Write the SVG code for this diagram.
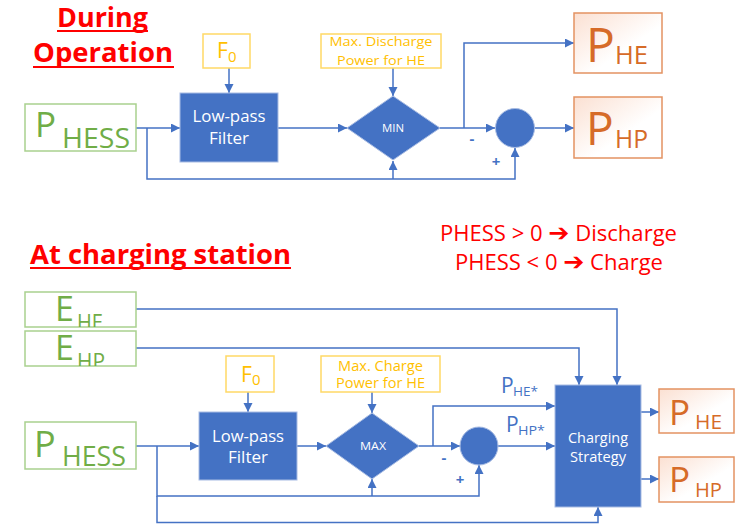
<svg xmlns="http://www.w3.org/2000/svg" width="735" height="524" viewBox="0 0 735 524">
<style>
text{font-family:"Open Sans","Liberation Sans",sans-serif}
.title{font-weight:bold;fill:#FF0000;font-size:26px}
.uline{stroke:#FF0000;stroke-width:2}
.red{fill:#FF0000;font-size:21px}
.wire{fill:none;stroke:#4472C4;stroke-width:1.5}
.arr{marker-end:url(#ah)}
.green{fill:#FFFFFF;stroke:#A9D18E;stroke-width:1.5}
.gtxt{fill:#70AD47}
.yel{fill:#FFFFFF;stroke:#FFD966;stroke-width:1.5}
.ytxt{fill:#FFC000}
.blue{fill:#4472C4;stroke:#A8BCE3;stroke-width:1}
.wtxt{fill:#FFFFFF;text-anchor:middle}
.org{fill:url(#og);stroke:#E39262;stroke-width:1.5}
.otxt{fill:#D66B28}
.btxt{fill:#4472C4}
.sign{fill:#4472C4;font-weight:bold;font-size:15px;text-anchor:middle}
</style>
<defs>
<marker id="ah" markerUnits="userSpaceOnUse" markerWidth="10" markerHeight="10" refX="9" refY="4.5" orient="auto">
<path d="M0,0 L9,4.5 L0,9 z" fill="#4472C4"/>
</marker>
<linearGradient id="og" x1="0" y1="0" x2="1" y2="1">
<stop offset="0" stop-color="#FBE0D2"/>
<stop offset="0.6" stop-color="#FFFFFF"/>
</linearGradient>
<clipPath id="cEHE"><rect x="25" y="292" width="111" height="35"/></clipPath>
<clipPath id="cEHP"><rect x="25" y="331" width="111" height="35"/></clipPath>
</defs>

<!-- Titles and notes -->
<g id="titles">
<text class="title" x="57" y="27" textLength="91" lengthAdjust="spacingAndGlyphs">During</text>
<line class="uline" x1="57" y1="31" x2="148" y2="31"/>
<text class="title" x="33" y="62" textLength="140" lengthAdjust="spacingAndGlyphs">Operation</text>
<line class="uline" x1="33" y1="67" x2="174" y2="67"/>
<text class="title" x="30" y="264" font-size="25" textLength="261" lengthAdjust="spacingAndGlyphs">At charging station</text>
<line class="uline" x1="30" y1="268" x2="291" y2="268"/>
<text class="red" x="440" y="241" textLength="237" lengthAdjust="spacingAndGlyphs">PHESS &gt; 0 <tspan font-family="DejaVu Sans" font-weight="bold" font-size="24">➔</tspan> Discharge</text>
<text class="red" x="455" y="270" textLength="208" lengthAdjust="spacingAndGlyphs">PHESS &lt; 0 <tspan font-family="DejaVu Sans" font-weight="bold" font-size="24">➔</tspan> Charge</text>
</g>

<!-- Connectors -->
<g id="connectors">
<!-- top -->
<path class="wire arr" d="M136,128 H180"/>
<path class="wire arr" d="M147,128 V179 H515 V148"/>
<path class="wire arr" d="M393,179 V161"/>
<path class="wire arr" d="M229,68 V93"/>
<path class="wire arr" d="M393,68 V96"/>
<path class="wire arr" d="M278,128 H347"/>
<path class="wire arr" d="M440,128 H495"/>
<path class="wire arr" d="M464,128 V43 H574"/>
<path class="wire arr" d="M534,128 H574"/>
<!-- bottom -->
<path class="wire arr" d="M136,446 H199"/>
<path class="wire arr" d="M157,446 V496 H479 V465"/>
<path class="wire arr" d="M372,496 V479"/>
<path class="wire arr" d="M157,496 V522.5 H598 V507"/>
<path class="wire arr" d="M248,392 V412"/>
<path class="wire arr" d="M372,392 V413"/>
<path class="wire arr" d="M297,446 H326"/>
<path class="wire arr" d="M419,446 H460"/>
<path class="wire arr" d="M433,446 V406 H555"/>
<path class="wire arr" d="M498,446 H555"/>
<path class="wire arr" d="M136,309 H617 V385"/>
<path class="wire arr" d="M136,348 H579 V385"/>
<path class="wire arr" d="M641,412 H659"/>
<path class="wire arr" d="M641,479 H659"/>
</g>

<!-- ===== Top section nodes ===== -->
<g id="top-phess">
<rect class="green" x="25" y="104" width="111" height="47"/>
<text class="gtxt" x="35" y="137" font-size="35">P</text>
<text class="gtxt" x="62" y="148" font-size="28" textLength="68" lengthAdjust="spacingAndGlyphs">HESS</text>
</g>
<g id="top-f0">
<rect class="yel" x="203" y="34" width="47" height="34"/>
<text class="ytxt" x="217" y="58" font-size="21">F</text>
<text class="ytxt" x="228" y="62" font-size="15">0</text>
</g>
<g id="top-lpf">
<rect class="blue" x="180" y="93" width="98" height="69"/>
<text class="wtxt" x="229" y="122" font-size="16" textLength="73" lengthAdjust="spacingAndGlyphs">Low-pass</text>
<text class="wtxt" x="229" y="144" font-size="16" textLength="40" lengthAdjust="spacingAndGlyphs">Filter</text>
</g>
<g id="top-maxdis">
<rect class="yel" x="321" y="34" width="120" height="34"/>
<text class="ytxt" x="381" y="46" font-size="12.5" text-anchor="middle" textLength="103" lengthAdjust="spacingAndGlyphs">Max. Discharge</text>
<text class="ytxt" x="381" y="65" font-size="13.5" text-anchor="middle" textLength="88" lengthAdjust="spacingAndGlyphs">Power for HE</text>
</g>
<g id="top-min">
<polygon points="347,128 393,96 440,128 393,160" fill="#4472C4" stroke="#A8BCE3" stroke-width="1"/>
<text class="wtxt" x="393" y="131.5" font-size="10" textLength="22" lengthAdjust="spacingAndGlyphs">MIN</text>
</g>
<g id="top-sum">
<circle cx="515" cy="128" r="19.5" fill="#4472C4" stroke="#A8BCE3" stroke-width="1"/>
<text class="sign" x="472" y="144">-</text>
<text class="sign" x="496" y="167">+</text>
</g>
<g id="top-phe">
<rect class="org" x="574" y="13" width="88" height="60"/>
<text class="otxt" x="586" y="62" font-size="48">P</text>
<text class="otxt" x="615" y="64" font-size="26" textLength="33" lengthAdjust="spacingAndGlyphs">HE</text>
</g>
<g id="top-php">
<rect class="org" x="574" y="97" width="88" height="61"/>
<text class="otxt" x="586" y="145" font-size="46">P</text>
<text class="otxt" x="615" y="148" font-size="26" textLength="33" lengthAdjust="spacingAndGlyphs">HP</text>
</g>

<!-- ===== Bottom section nodes ===== -->
<g id="ehe">
<rect class="green" x="25" y="292" width="111" height="35"/>
<text class="gtxt" x="55" y="321" font-size="34">E</text>
<text class="gtxt" x="77" y="330" font-size="21" textLength="26" lengthAdjust="spacingAndGlyphs" clip-path="url(#cEHE)">HE</text>
</g>
<g id="ehp">
<rect class="green" x="25" y="331" width="111" height="35"/>
<text class="gtxt" x="55" y="360" font-size="34">E</text>
<text class="gtxt" x="77" y="369" font-size="21" textLength="28" lengthAdjust="spacingAndGlyphs" clip-path="url(#cEHP)">HP</text>
</g>
<g id="bot-phess">
<rect class="green" x="25" y="422" width="111" height="47"/>
<text class="gtxt" x="34" y="457" font-size="36">P</text>
<text class="gtxt" x="62" y="466" font-size="27" textLength="64" lengthAdjust="spacingAndGlyphs">HESS</text>
</g>
<g id="bot-f0">
<rect class="yel" x="226" y="356" width="48" height="36"/>
<text class="ytxt" x="241" y="382" font-size="21">F</text>
<text class="ytxt" x="252" y="385" font-size="15">0</text>
</g>
<g id="bot-lpf">
<rect class="blue" x="199" y="412" width="98" height="68"/>
<text class="wtxt" x="248" y="442" font-size="16" textLength="72" lengthAdjust="spacingAndGlyphs">Low-pass</text>
<text class="wtxt" x="248" y="463" font-size="16" textLength="40" lengthAdjust="spacingAndGlyphs">Filter</text>
</g>
<g id="bot-maxch">
<rect class="yel" x="321" y="356" width="119" height="36"/>
<text class="ytxt" x="380.5" y="371" font-size="14" text-anchor="middle" textLength="85" lengthAdjust="spacingAndGlyphs">Max. Charge</text>
<text class="ytxt" x="380.5" y="388" font-size="14" text-anchor="middle" textLength="89" lengthAdjust="spacingAndGlyphs">Power for HE</text>
</g>
<g id="bot-max">
<polygon points="326,446 372,413 419,446 372,479" fill="#4472C4" stroke="#A8BCE3" stroke-width="1"/>
<text class="wtxt" x="373" y="450" font-size="11" textLength="26" lengthAdjust="spacingAndGlyphs">MAX</text>
</g>
<g id="bot-sum">
<circle cx="479" cy="446" r="19" fill="#4472C4" stroke="#A8BCE3" stroke-width="1"/>
<text class="sign" x="444" y="463">-</text>
<text class="sign" x="460" y="485">+</text>
</g>
<g id="labels">
<text class="btxt" x="501" y="393" font-size="21">P</text>
<text class="btxt" x="513" y="396" font-size="13" textLength="25" lengthAdjust="spacingAndGlyphs">HE*</text>
<text class="btxt" x="506" y="432" font-size="21">P</text>
<text class="btxt" x="518" y="435" font-size="13" textLength="27" lengthAdjust="spacingAndGlyphs">HP*</text>
</g>
<g id="strategy">
<rect class="blue" x="555" y="385" width="86" height="122"/>
<text class="wtxt" x="598" y="443" font-size="15" textLength="60" lengthAdjust="spacingAndGlyphs">Charging</text>
<text class="wtxt" x="598" y="462" font-size="15" textLength="56" lengthAdjust="spacingAndGlyphs">Strategy</text>
</g>
<g id="bot-phe">
<rect class="org" x="659" y="389" width="75" height="44"/>
<text class="otxt" x="669" y="425" font-size="35">P</text>
<text class="otxt" x="695" y="429" font-size="20" textLength="27" lengthAdjust="spacingAndGlyphs">HE</text>
</g>
<g id="bot-php">
<rect class="org" x="659" y="457" width="75" height="45"/>
<text class="otxt" x="669" y="492" font-size="35">P</text>
<text class="otxt" x="695" y="497" font-size="20" textLength="27" lengthAdjust="spacingAndGlyphs">HP</text>
</g>
</svg>
